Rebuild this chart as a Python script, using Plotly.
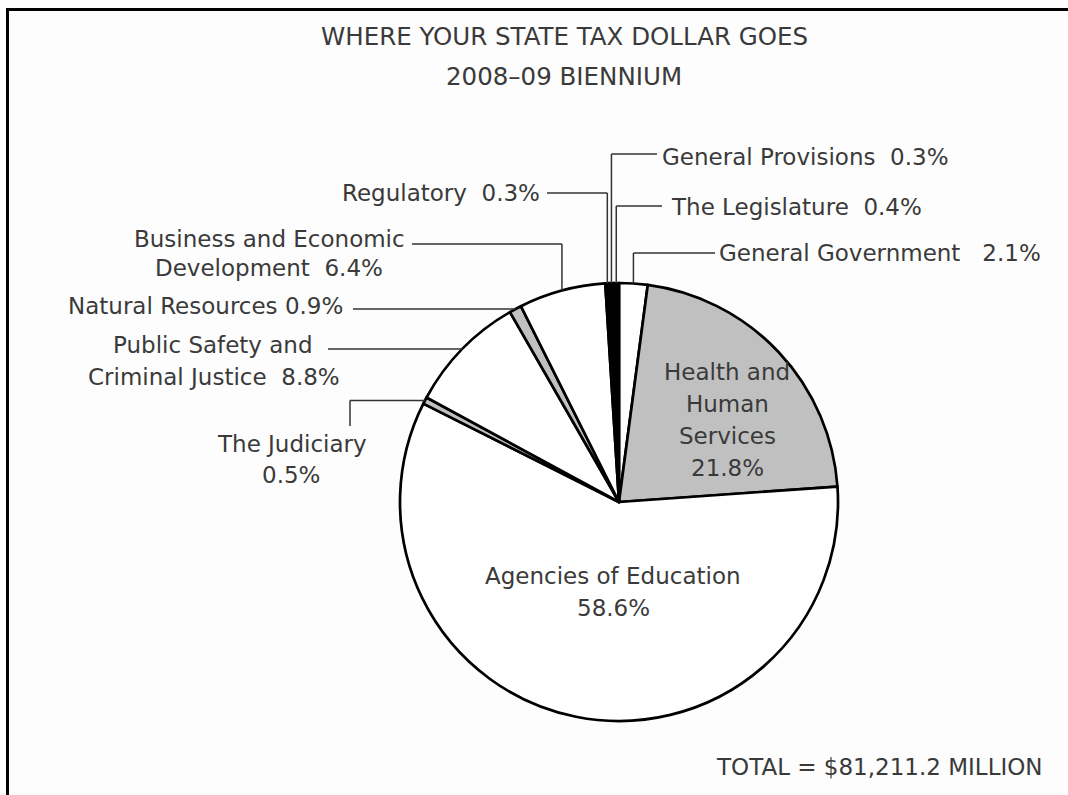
import math
import plotly.graph_objects as go

# Budget shares, 2008-09 biennium (percent of total)
categories = [
    "General Government",
    "Health and Human Services",
    "Agencies of Education",
    "The Judiciary",
    "Public Safety and Criminal Justice",
    "Natural Resources",
    "Business and Economic Development",
    "Regulatory",
    "General Provisions",
    "The Legislature",
]
shares = [2.1, 21.8, 58.6, 0.5, 8.8, 0.9, 6.4, 0.3, 0.3, 0.4]
slice_colors = ["#ffffff", "#c0c0c0", "#ffffff", "#c0c0c0", "#ffffff",
                "#c0c0c0", "#ffffff", "#000000", "#000000", "#000000"]

title_lines = ["WHERE YOUR STATE TAX DOLLAR GOES", "2008\u201309 BIENNIUM"]
total_text = "TOTAL = $81,211.2 MILLION"

W, H = 1068, 795
CX, CY, R = 619, 502, 219
FONT = "DejaVu Sans"
TEXT_COLOR = "#3a3a3a"
FS = 23
TITLE_FS = 24.5


def px(x):
    return x / W


def py(y):
    return 1 - y / H


def rim_point(i):
    """Point on the pie rim at the angular middle of slice i (pixels)."""
    tot = sum(shares)
    before = sum(shares[:i])
    theta = (before + shares[i] / 2) / tot * 2 * math.pi
    return CX + R * math.sin(theta), CY - R * math.cos(theta)


def pct(i):
    return f"{shares[i]}%"


fig = go.Figure(go.Pie(
    labels=categories,
    values=shares,
    sort=False,
    direction="clockwise",
    rotation=0,
    textinfo="none",
    hoverinfo="label+percent",
    marker=dict(colors=slice_colors, line=dict(color="#000000", width=2.7)),
    showlegend=False,
    domain=dict(x=[px(CX - R), px(CX + R)], y=[py(CY + R), py(CY - R)]),
))

shapes = []


def seg(x0, y0, x1, y1, w=1.5, color="#333333"):
    shapes.append(dict(type="line", xref="paper", yref="paper",
                       x0=px(x0), y0=py(y0), x1=px(x1), y1=py(y1),
                       line=dict(color=color, width=w)))


# Leader lines: (slice index, style, start x, elbow y)
leaders = [
    (0, "v", 715, 253),
    (9, "v", 662, 206),
    (8, "v", 657, 154),
    (7, "v", 547, 193),
    (6, "v", 412, 244),
    (5, "h", 353, None),
    (4, "h", 328, None),
    (3, "j", 350, 426),
]
for i, style, sx, ey in leaders:
    rx, ry = rim_point(i)
    if style == "v":
        seg(sx, ey, rx, ey)
        seg(rx, ey, rx, ry)
    elif style == "h":
        seg(sx, ry, rx, ry)
    else:
        seg(sx, ey, sx, ry)
        seg(sx, ry, rx, ry)

# Frame along the left and top edges
seg(7.5, 8, 7.5, H, w=3, color="#000000")
seg(6, 9.5, W, 9.5, w=3, color="#000000")

annotations = []


def label(text, x, y, anchor="left", size=FS):
    annotations.append(dict(text=text, x=px(x), y=py(y), xref="paper", yref="paper",
                            xanchor=anchor, yanchor="middle", showarrow=False,
                            font=dict(family=FONT, size=size, color=TEXT_COLOR)))


label(title_lines[0], 564, 37, "center", TITLE_FS)
label(title_lines[1], 564, 77, "center", TITLE_FS)

label(f"General Provisions  {pct(8)}", 660, 157)
label(f"The Legislature  {pct(9)}", 669, 207)
label(f"General Government   {pct(0)}", 717, 253)
label(f"Regulatory  {pct(7)}", 542, 193, "right")
label("Business and Economic", 407, 239, "right")
label(f"Development  {pct(6)}", 269, 268, "center")
label(f"Natural Resources {pct(5)}", 345, 306, "right")
label("Public Safety and", 315, 345, "right")
label(f"Criminal Justice  {pct(4)}", 342, 377, "right")
label("The Judiciary", 292, 444, "center")
label(pct(3), 291, 475, "center")

for k, line in enumerate(["Health and", "Human", "Services", pct(1)]):
    label(line, 727, 372 + 32 * k, "center")
label("Agencies of Education", 613, 576, "center")
label(pct(2), 613, 608, "center")

label(total_text, 1045, 767, "right")

fig.update_layout(
    width=W, height=H,
    margin=dict(l=0, r=0, t=0, b=0),
    paper_bgcolor="#fdfdfd",
    plot_bgcolor="#fdfdfd",
    shapes=shapes,
    annotations=annotations,
)

fig.write_html("out.html")
